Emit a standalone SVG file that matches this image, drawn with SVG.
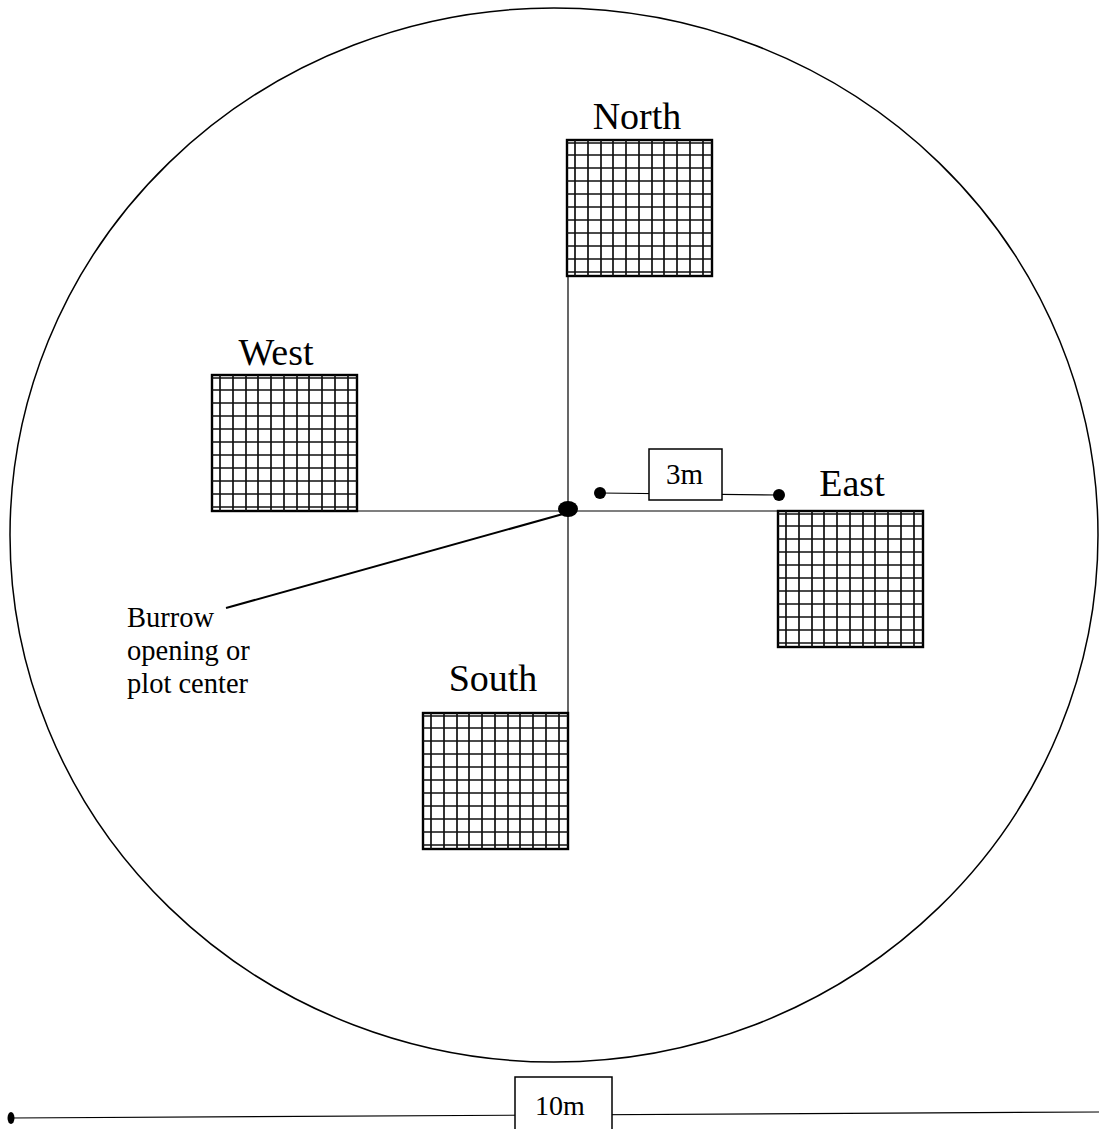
<svg xmlns="http://www.w3.org/2000/svg" xmlns:xlink="http://www.w3.org/1999/xlink" width="1099" height="1129" viewBox="0 0 1099 1129">
<style>
.lbl{font-family:"Liberation Serif",serif;fill:#000}
.ln{stroke:#000;stroke-width:1.2;fill:none}
.gl{stroke:#111;stroke-width:1.7;fill:none}
</style>
<defs>
<g id="grid">
<rect x="0" y="0" width="145" height="136" fill="#fff" stroke="#000" stroke-width="2.4"/>
<path class="gl" d="M8 0V136M21 0V136M34 0V136M46 0V136M59 0V136M72 0V136M85 0V136M97 0V136M110 0V136M123 0V136M136 0V136M0 3H145M0 15H145M0 28H145M0 41H145M0 54H145M0 67H145M0 80H145M0 93H145M0 106H145M0 119H145M0 132H145"/>
</g>
</defs>
<rect width="1099" height="1129" fill="#fff"/>
<ellipse cx="554" cy="535" rx="544" ry="527" fill="none" stroke="#000" stroke-width="1.5"/>
<g id="connectors">
<line class="ln" x1="568" y1="276" x2="568" y2="713"/>
<line class="ln" x1="357" y1="511" x2="778" y2="511"/>
<line x1="563" y1="514" x2="226" y2="608" stroke="#000" stroke-width="2"/>
<line class="ln" x1="600" y1="493" x2="779" y2="495"/>
<line class="ln" x1="10" y1="1118" x2="1099" y2="1112"/>
</g>
<g id="center"><ellipse cx="568" cy="509" rx="10" ry="8" fill="#000"/></g>
<g id="north"><use xlink:href="#grid" x="567" y="140"/><text class="lbl" x="637" y="129" font-size="38" text-anchor="middle">North</text></g>
<g id="west"><use xlink:href="#grid" x="212" y="375"/><text class="lbl" x="276" y="365" font-size="38" text-anchor="middle">West</text></g>
<g id="east"><use xlink:href="#grid" x="778" y="511"/><text class="lbl" x="852" y="496" font-size="38" text-anchor="middle">East</text></g>
<g id="south"><use xlink:href="#grid" x="423" y="713"/><text class="lbl" x="493" y="691" font-size="38" text-anchor="middle">South</text></g>
<g id="burrow">
<text class="lbl" font-size="28.5"><tspan x="127" y="627">Burrow</tspan><tspan x="127" y="660">opening or</tspan><tspan x="127" y="693">plot center</tspan></text>
</g>
<g id="scale3m">
<circle cx="600" cy="493" r="6" fill="#000"/>
<circle cx="779" cy="495" r="6" fill="#000"/>
<rect x="649" y="449" width="73" height="51" fill="#fff" stroke="#000" stroke-width="1.5"/>
<text class="lbl" x="684.5" y="484" font-size="29" text-anchor="middle">3m</text>
</g>
<g id="scale10m">
<ellipse cx="11" cy="1118" rx="3.5" ry="6" fill="#000"/>
<rect x="515" y="1077" width="97" height="56" fill="#fff" stroke="#000" stroke-width="1.5"/>
<text class="lbl" x="560" y="1115" font-size="28" text-anchor="middle">10m</text>
</g>
</svg>
